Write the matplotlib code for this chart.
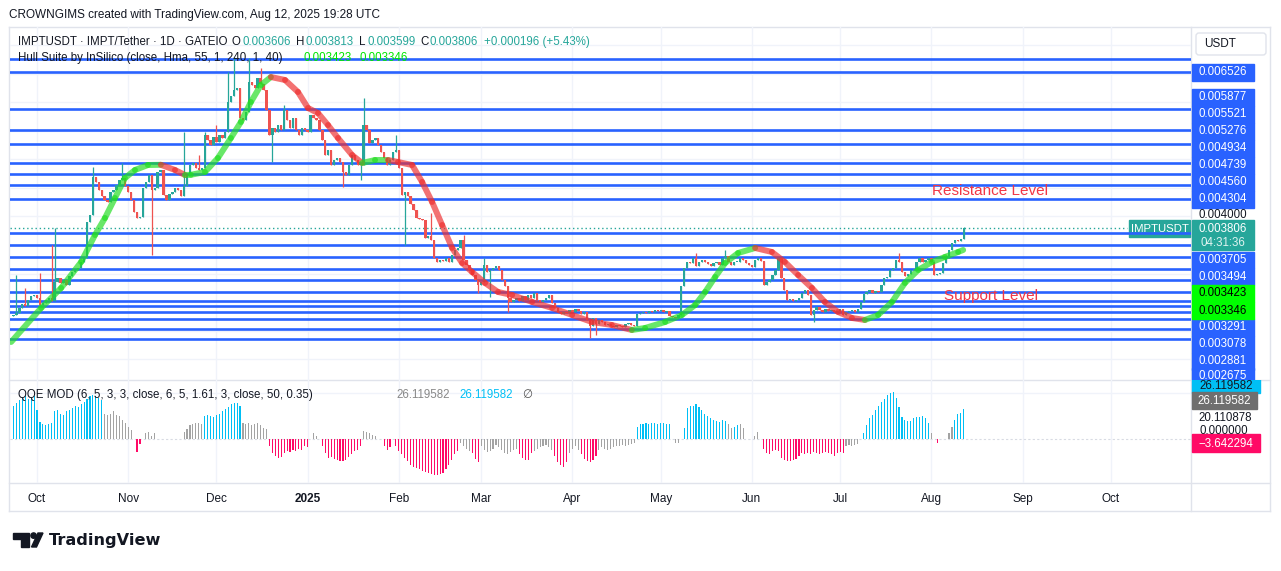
import numpy as np
import pandas as pd
import matplotlib
matplotlib.use("Agg")
import matplotlib.pyplot as plt
from matplotlib.patches import Rectangle, Polygon, Circle, FancyBboxPatch
from matplotlib.collections import LineCollection

plt.rcParams['font.family'] = ['Liberation Sans', 'DejaVu Sans']

W, H = 1281, 571

# ---------------- data (prices in 1e-6 USDT) ----------------
# daily closes, last candle = 2025-08-12
closes = [
    2277, 2312, 2399, 2469, 2434, 2539, 2609, 2627, 2574, 2452,
    2487, 2539, 2574, 2522, 2854, 2924, 2837, 2889, 2802, 2959,
    3029, 3064, 3099, 3204, 3274, 3904, 4027, 4692, 4604, 4464,
    4359, 4289, 4254, 4429, 4464, 4552, 4639, 4674, 4534, 4429,
    4289, 4079, 3974, 3992, 4499, 4604, 4727, 4464, 4499, 4779,
    4814, 4377, 4289, 4394, 4429, 4499, 4464, 4359, 4534, 4727,
    4902, 4937, 4849, 4814, 4849, 5427, 5339, 5252, 5392, 5304,
    5427, 5374, 5479, 6004, 6109, 6214, 6249, 5724, 5689, 5829,
    6354, 6302, 6249, 6424, 6319, 6214, 5864, 5427, 5549, 5479,
    5602, 5514, 5864, 5689, 5549, 5724, 5514, 5427, 5549, 5514,
    5479, 5777, 5724, 5689, 5514, 5339, 5077, 5164, 4902, 4989,
    5024, 4954, 4779, 4727, 4902, 5077, 4989, 4902, 4902, 5602,
    5514, 5287, 5339, 5374, 5252, 5129, 5024, 4902, 4989, 5129,
    5164, 4849, 4377, 4429, 4359, 4219, 4114, 3974, 3957, 3939,
    3624, 3659, 3589, 3274, 3204, 3239, 3222, 3274, 3204, 3327,
    3414, 3449, 3589, 3239, 3152, 3064, 2977, 2889, 2802, 2854,
    3152, 3029, 3064, 3099, 3134, 3064, 2889, 2784, 2574, 2504,
    2539, 2574, 2522, 2609, 2539, 2627, 2574, 2662, 2539, 2504,
    2539, 2574, 2627, 2487, 2399, 2329, 2294, 2329, 2312, 2364,
    2329, 2382, 2347, 2294, 2329, 2189, 2084, 2224, 2119, 2189,
    2154, 2102, 2119, 2084, 2067, 2102, 2084, 2067, 2119, 2137,
    2102, 2084, 2294, 2312, 2329, 2312, 2347, 2329, 2364, 2347,
    2364, 2329, 2347, 2259, 2242, 2224, 2277, 2784, 3099, 3204,
    3187, 3274, 3134, 3204, 3239, 3204, 3169, 3134, 3187, 3204,
    3152, 3274, 3309, 3204, 3152, 3204, 3204, 3274, 3239, 3187,
    3152, 3117, 3239, 3274, 3222, 2802, 2854, 2889, 2977, 3064,
    3274, 2924, 2714, 2539, 2557, 2522, 2539, 2574, 2662, 2714,
    2627, 2277, 2364, 2417, 2364, 2329, 2382, 2347, 2364, 2329,
    2347, 2382, 2277, 2329, 2347, 2364, 2329, 2382, 2504, 2644,
    2679, 2714, 2662, 2697, 2679, 2802, 2924, 2942, 3064, 3099,
    3239, 3204, 3029, 2959, 2994, 3064, 3064, 3204, 3274, 3204,
    3239, 3274, 3204, 2977, 2994, 3012, 3187, 3274, 3414, 3537,
    3589, 3572, 3606, 3806,
]
first_open = 2250
last_day = '2025-08-12'

wick_high = {
    '2024-09-24': 2977, '2024-09-27': 2750, '2024-10-02': 3012, '2024-10-06': 3502,
    '2024-10-07': 3799, '2024-10-20': 4867, '2024-10-30': 4937, '2024-11-20': 5479,
    '2024-11-25': 5077, '2024-11-27': 5479, '2024-12-01': 5602, '2024-12-05': 6529,
    '2024-12-07': 6800, '2024-12-12': 6774, '2024-12-16': 6599, '2024-12-24': 5951,
    '2025-01-20': 6074, '2025-01-31': 5427, '2025-02-12': 4062, '2025-02-23': 3677,
    '2025-03-02': 3274, '2025-05-13': 3362, '2025-05-23': 3414, '2025-06-10': 3290,
    '2025-07-21': 3362, '2025-08-12': 3813,
}
wick_low = {
    '2024-11-09': 3327, '2024-12-20': 4954, '2025-01-13': 4517, '2025-01-19': 4639,
    '2025-02-03': 3502, '2025-02-28': 2662, '2025-03-04': 2590, '2025-03-10': 2329,
    '2025-04-07': 1874, '2025-04-09': 1926, '2025-06-22': 2154, '2025-08-12': 3599,
}

# Hull Suite band, days counted from 2024-10-01
hull_day = [-8.8, 1.4, 8.2, 15.0, 19.7, 23.1, 26.5, 29.9, 33.3, 37.7, 42.1, 46.9, 50.3,
            52.3, 57.1, 61.5, 65.9, 69.3, 72.7, 76.1, 79.5, 84.3, 88.7, 92.1, 95.5, 98.9,
            102.3, 107.1, 110.5, 114.9, 119.3, 122.7, 127.5, 130.9, 134.3, 137.7, 141.1,
            144.5, 147.9, 152.3, 156.7, 161.5, 168.3, 175.1, 181.9, 188.6, 195.4, 202.2,
            206.7, 213.5, 219.2, 223.7, 227.1, 230.5, 233.9, 238.3, 244.1, 249.8, 254.2,
            258.7, 263.4, 267.8, 272.3, 277.0, 281.4, 285.9, 290.6, 295.0, 299.5, 304.2,
            308.6, 313.1, 314.8]
hull_val = [1804, 2399, 2749, 3204, 3676, 3974, 4324, 4674, 4814, 4901, 4905, 4814, 4726,
            4730, 4779, 5024, 5374, 5654, 6004, 6301, 6441, 6389, 6179, 5899, 5811, 5601,
            5374, 5076, 4936, 4989, 4989, 4954, 4901, 4604, 4254, 3851, 3449, 3186, 3029,
            2836, 2679, 2626, 2504, 2399, 2276, 2154, 2101, 2014, 2049, 2154, 2276, 2451,
            2679, 2941, 3186, 3361, 3449, 3379, 3204, 2976, 2749, 2504, 2329, 2224, 2189,
            2276, 2504, 2836, 3064, 3204, 3291, 3379, 3414]

# horizontal support / resistance rays
levels = [6757, 6526, 5877, 5521, 5276, 4934, 4739, 4560, 4304, 3705, 3494, 3291,
          3078, 2881, 2675, 2527, 2429, 2334, 2212, 2031, 1862]

# QQE MOD histogram (one bar per candle) and bar colours c=cyan g=grey r=pink
qqe = [
    29, 31, 34, 36, 37, 35, 35, 37, 25, 15,
    13, 12, 13, 14, 24, 25, 22, 21, 24, 25,
    27, 29, 28, 30, 32, 35, 37, 38, 37, 36,
    34, 22, 21, 22, 24, 21, 20, 17, 14, 11,
    8, 0, -11, -4, 0, 5, 6, 3, 5, 0,
    0, 0, 0, 0, 0, 0, 0, 0, 6, 9,
    12, 13, 14, 14, 13, 20, 21, 20, 19, 21,
    22, 24, 26, 28, 30, 31, 31, 29, 14, 13,
    14, 12, 13, 14, 12, 10, 9, -6, -12, -14,
    -16, -15, -12, -10, -11, -9, -10, -8, -9, -6,
    -7, 0, 5, 3, 0, -6, -12, -16, -15, -17,
    -18, -19, -19, -18, -15, -13, -10, -9, -6, 7,
    6, 5, 4, 3, 0, 0, -6, -9, -7, 0,
    -6, -10, -13, -16, -19, -22, -24, -25, -26, -27,
    -28, -29, -30, -31, -31, -30, -29, -26, -22, -18,
    -13, -10, -3, -6, -8, -10, -12, -17, -20, -6,
    -9, -11, -10, -8, -5, -7, -9, -12, -13, -11,
    -9, -8, -13, -16, -18, -18, -12, -10, -8, -7,
    -6, -5, -7, -9, -14, -20, -22, -24, -20, -12,
    -8, -6, -9, -13, -17, -19, -20, -18, -14, -9,
    -7, -8, -9, -8, -7, -6, -6, -5, -6, -5,
    -4, -3, 11, 13, 13, 14, 13, 14, 14, 13,
    14, 14, 13, 13, 0, -3, -3, 0, 10, 27,
    29, 29, 30, 28, 25, 22, 20, 18, 17, 16,
    15, 17, 16, 13, 10, 11, 12, 13, 10, 0,
    0, 0, 3, 6, 0, -8, -12, -13, -10, -9,
    -10, -16, -18, -19, -19, -18, -17, -14, -12, -13,
    -12, -13, -11, -12, -13, -12, -11, -12, -13, -14,
    -12, -11, -12, -6, -5, -6, -5, -4, 0, 5,
    12, 18, 21, 25, 29, 32, 35, 38, 40, 41,
    36, 28, 19, 17, 16, 16, 18, 19, 19, 20,
    18, 14, 5, 0, -3, 0, 0, 0, 5, 11,
    17, 22, 23, 26.119582,
]
qqe_col = ('cccccccccc' 'cccccccccc' 'cccccccccc' 'cggggggggg' 'ggrrgggggg'
           'gggggggggg' 'gggggccccc' 'ccccccccgg' 'gggggggrrr' 'rrrrrrrrrr'
           'rgggrrrrrr' 'rrrrrrrrrg' 'ggggggrrrg' 'rrrrrrrrrr' 'rrrrrrrrrr'
           'rrggggrrrg' 'gggggggggg' 'ggrrrrrggg' 'ggggrrrrrg' 'gggrrrrrrg'
           'gggggggggg' 'ggcccccccc' 'ccccggggcc' 'cccccccccc' 'cccggccggg'
           'gggggrrrrr' 'rrrrrrrrrr' 'rrrrrrrrrr' 'rrrggggggc' 'cccccccccc'
           'cccccccccc' 'ccggrggggg' 'cccc')

month_names = ['Oct', 'Nov', 'Dec', '2025', 'Feb', 'Mar', 'Apr', 'May', 'Jun',
               'Jul', 'Aug', 'Sep', 'Oct']

# ---------------- style ----------------
UP, DOWN = '#26a69a', '#ef5350'
BLUE = '#2962ff'
TXT = '#131722'
GRID = '#f0f3fa'
BORDER = '#e0e3eb'
QCOL = {'c': '#00bff5', 'g': '#a3a3a3', 'r': '#ff0a66'}
FS = 8.3


def rect(x0, y0, x1, y1):
    return [x0 / W, 1 - y1 / H, (x1 - x0) / W, (y1 - y0) / H]


fig = plt.figure(figsize=(W / 100, H / 100), dpi=100, facecolor='white')
rend = fig.canvas.get_renderer()

# background layer in pixel coordinates (frames, logo)
bg = fig.add_axes([0, 0, 1, 1])
bg.set_xlim(0, W)
bg.set_ylim(H, 0)
bg.axis('off')

base = pd.Timestamp('2024-10-01')
dates = pd.date_range(end=last_day, periods=len(closes), freq='D')
x = np.asarray((dates - base).days, dtype=float)
c = np.array(closes) * 1e-6
o = np.r_[first_open, closes[:-1]] * 1e-6
hi = np.maximum(o, c)
lo = np.minimum(o, c)
for k, v in wick_high.items():
    i = dates.get_loc(pd.Timestamp(k))
    hi[i] = max(hi[i], v * 1e-6)
for k, v in wick_low.items():
    i = dates.get_loc(pd.Timestamp(k))
    lo[i] = min(lo[i], v * 1e-6)

mstarts = pd.date_range('2024-10-01', '2025-10-01', freq='MS')
mx = np.asarray((mstarts - base).days, dtype=float)
xlim = (-9.18, 392.25)

# ---------------- price panel ----------------
ax = fig.add_axes(rect(10, 27, 1191, 380))
ax.set_facecolor('none')
ax.set_xlim(*xlim)
ax.set_ylim(0.0011385, 0.0073165)
for s in ax.spines.values():
    s.set_visible(False)
ax.set_xticks(mx)
ax.set_yticks(np.arange(0.0015, 0.0071, 0.0005))
ax.tick_params(left=False, bottom=False, labelleft=False, labelbottom=False)
ax.grid(True, color=GRID, lw=1)

for lv in levels:
    ax.axhline(lv * 1e-6, color=BLUE, lw=1.9, zorder=2)

up = c >= o
cols = np.where(up, UP, DOWN)
ax.vlines(x, lo, hi, colors=cols, lw=0.9, zorder=3)
body = np.maximum(np.abs(c - o), 1.2e-5)
ax.bar(x, body, bottom=np.minimum(o, c), width=0.8, color=cols, lw=0, zorder=3)

# hull band
hd = np.array(hull_day)
hv = np.array(hull_val) * 1e-6
segs, scol = [], []
prev = 'g'
for i in range(len(hd) - 1):
    d = hv[i + 1] - hv[i]
    if d > 0:
        prev = 'g'
    elif d < 0:
        prev = 'r'
    segs.append([(hd[i], hv[i]), (hd[i + 1], hv[i + 1])])
    scol.append('#22dd22' if prev == 'g' else '#ee3030')
lc = LineCollection(segs, colors=scol, linewidths=4.3, alpha=0.68, zorder=4,
                    capstyle='round')
ax.add_collection(lc)

# last price dotted line
ax.plot([xlim[0], 370.5], [c[-1], c[-1]], color=UP, lw=1, ls=(0, (1, 2)), zorder=2)

ax.text((932 - 10) / 1181, (380 - 191) / 353, 'Resistance Level', transform=ax.transAxes,
        color='#f23645', fontsize=11, va='center', ha='left', zorder=6)
ax.text((944 - 10) / 1181, (380 - 296) / 353, 'Support Level', transform=ax.transAxes,
        color='#f23645', fontsize=11, va='center', ha='left', zorder=6)

# ---------------- QQE panel ----------------
qax = fig.add_axes(rect(10, 380, 1191, 483))
qax.set_facecolor('none')
qax.set_xlim(*xlim)
qax.set_ylim(-37.7, 51.1)
for s in qax.spines.values():
    s.set_visible(False)
qax.set_yticks([40])
qax.grid(True, color=GRID, lw=1)
qax.axhline(0, color='#d8dbe3', lw=0.8, ls=(0, (2, 2)))
qax.bar(x, qqe, width=0.38, color=[QCOL[k] for k in qqe_col], lw=0, zorder=3)
qax.set_xticks(mx)
qax.set_xticklabels(month_names)
qax.tick_params(left=False, labelleft=False, length=0, pad=7, labelsize=8.5,
                colors=TXT)
qax.get_xticklabels()[3].set_fontweight('bold')

# ---------------- frames ----------------
for (xa, ya, xb, yb) in [(9, 27, 1270, 27), (9, 511, 1270, 511), (9, 27, 9, 511),
                         (1270, 27, 1270, 511), (1191, 27, 1191, 511),
                         (9, 380, 1270, 380), (9, 483, 1270, 483)]:
    bg.plot([xa, xb], [ya, yb], color=BORDER, lw=1)


def text_row(layer, items, y, fs, gap=1.5):
    # place pieces at their x, never closer than `gap` px to the previous one
    end = 0
    for t, xx, cc in items:
        xx = max(xx, end + gap)
        tt = layer.text(xx, y, t, fontsize=fs, color=cc, va='center',
                        transform=bg.transData, zorder=10)
        end = tt.get_window_extent(rend).x1


# ---------------- header & legends ----------------
bg.text(9, 15, 'CROWNGIMS created with TradingView.com, Aug 12, 2025 19:28 UTC',
        fontsize=8.5, color=TXT, va='center')
text_row(ax, [('IMPTUSDT · IMPT/Tether · 1D · GATEIO', 18, TXT), ('O', 232, TXT),
              ('0.003606', 241, UP), ('H', 296, TXT), ('0.003813', 305, UP),
              ('L', 359, TXT), ('0.003599', 366, UP), ('C', 420, TXT),
              ('0.003806', 428, UP), ('+0.000196 (+5.43%)', 484, UP)], 42, FS)
text_row(ax, [('Hull Suite by InSilico (close, Hma, 55, 1, 240, 1, 40)', 18, TXT),
              ('0.003423', 304, '#00e600'), ('0.003346', 359, '#00e600')], 58, FS)
text_row(qax, [('QQE MOD (6, 5, 3, 3, close, 6, 5, 1.61, 3, close, 50, 0.35)', 18, TXT),
               ('26.119582', 396, '#888888'), ('26.119582', 459, '#00bff5'),
               ('∅', 522, '#555555')], 395, FS)

# IMPTUSDT tag at end of price line
bg.add_patch(Rectangle((1129, 220), 61, 17, color=UP, zorder=5))
bg.text(1159.5, 228.5, 'IMPTUSDT', fontsize=8.2, color='white', ha='center',
        va='center', zorder=6)

# ---------------- right price scale ----------------
pax = fig.add_axes(rect(1191, 27, 1270, 380))
pax.set_xlim(1191, 1270)
pax.set_ylim(380, 27)
pax.axis('off')

pax.add_patch(FancyBboxPatch((1196, 33), 70, 22, boxstyle='round,pad=0,rounding_size=3',
                             fc='white', ec=BORDER, lw=1))
pax.text(1204, 44, 'USDT', fontsize=8.5, color=TXT, va='center')

tags = [('0.006526', 72.3), ('0.005877', 97.3), ('0.005521', 114.3),
        ('0.005276', 131.3), ('0.004934', 148.3), ('0.004739', 165.3),
        ('0.004560', 182.3), ('0.004304', 199.3), ('0.003705', 260.0),
        ('0.003494', 276.7), ('0.003291', 327.3), ('0.003078', 344.3),
        ('0.002881', 361.3), ('0.002675', 376.0)]
for t, yc in tags:
    pax.add_patch(Rectangle((1192, yc - 8.3), 62, 16.6, color=BLUE, zorder=2))
    pax.text(1223, yc, t, fontsize=FS, color='white', ha='center', va='center', zorder=3)
for t, yc in [('0.003423', 293.5), ('0.003346', 310.5)]:
    pax.add_patch(Rectangle((1192, yc - 8.5), 62, 17, color='#00ff00', zorder=2))
    pax.text(1223, yc, t, fontsize=FS, color='black', ha='center', va='center', zorder=3)
pax.text(1223, 215.5, '0.004000', fontsize=FS, color=TXT, ha='center', va='center')
pax.add_patch(Rectangle((1192, 220), 62, 30, color=UP, zorder=2))
pax.text(1223, 228.5, '0.003806', fontsize=FS, color='white', ha='center', va='center',
         zorder=3)
pax.text(1223, 242.5, '04:31:36', fontsize=FS, color='#dff3f0', ha='center',
         va='center', zorder=3)

# ---------------- QQE scale ----------------
qpax = fig.add_axes(rect(1191, 380, 1270, 483))
qpax.set_xlim(1191, 1270)
qpax.set_ylim(483, 380)
qpax.axis('off')
qpax.text(1224, 431, '0.000000', fontsize=FS, color=TXT, ha='center', va='center')
qpax.add_patch(Rectangle((1192, 377), 68, 16, color='#00bff5', zorder=2))
qpax.text(1226, 385.5, '26.119582', fontsize=FS, color=TXT, ha='center', va='center',
          zorder=3)
qpax.add_patch(Rectangle((1192, 392), 65, 17, color='#6f6f6f', zorder=2))
qpax.text(1224.5, 400.5, '26.119582', fontsize=FS, color='white', ha='center',
          va='center', zorder=3)
qpax.text(1225, 417.5, '20.110878', fontsize=FS, color=TXT, ha='center', va='center')
qpax.add_patch(Rectangle((1192, 434), 68, 18, color='#ff0a66', zorder=2))
qpax.text(1226, 443.5, '\u22123.642294', fontsize=FS, color='white', ha='center',
          va='center', zorder=3)

# ---------------- TradingView logo ----------------
bg.add_patch(Polygon([(12.7, 533), (29.3, 533), (29.3, 547), (20.5, 547), (20.5, 538.5),
                      (12.7, 538.5)], closed=True, color=TXT))
bg.add_patch(Circle((33.6, 535.6), 2.7, color=TXT))
bg.add_patch(Polygon([(38, 533), (43, 533), (36.5, 547), (31.5, 547)], closed=True,
                     color=TXT))
bg.text(49, 541, 'TradingView', fontsize=11.6, fontweight='bold', color=TXT,
        va='center', family='DejaVu Sans')

fig.savefig('out.png', dpi=100)
